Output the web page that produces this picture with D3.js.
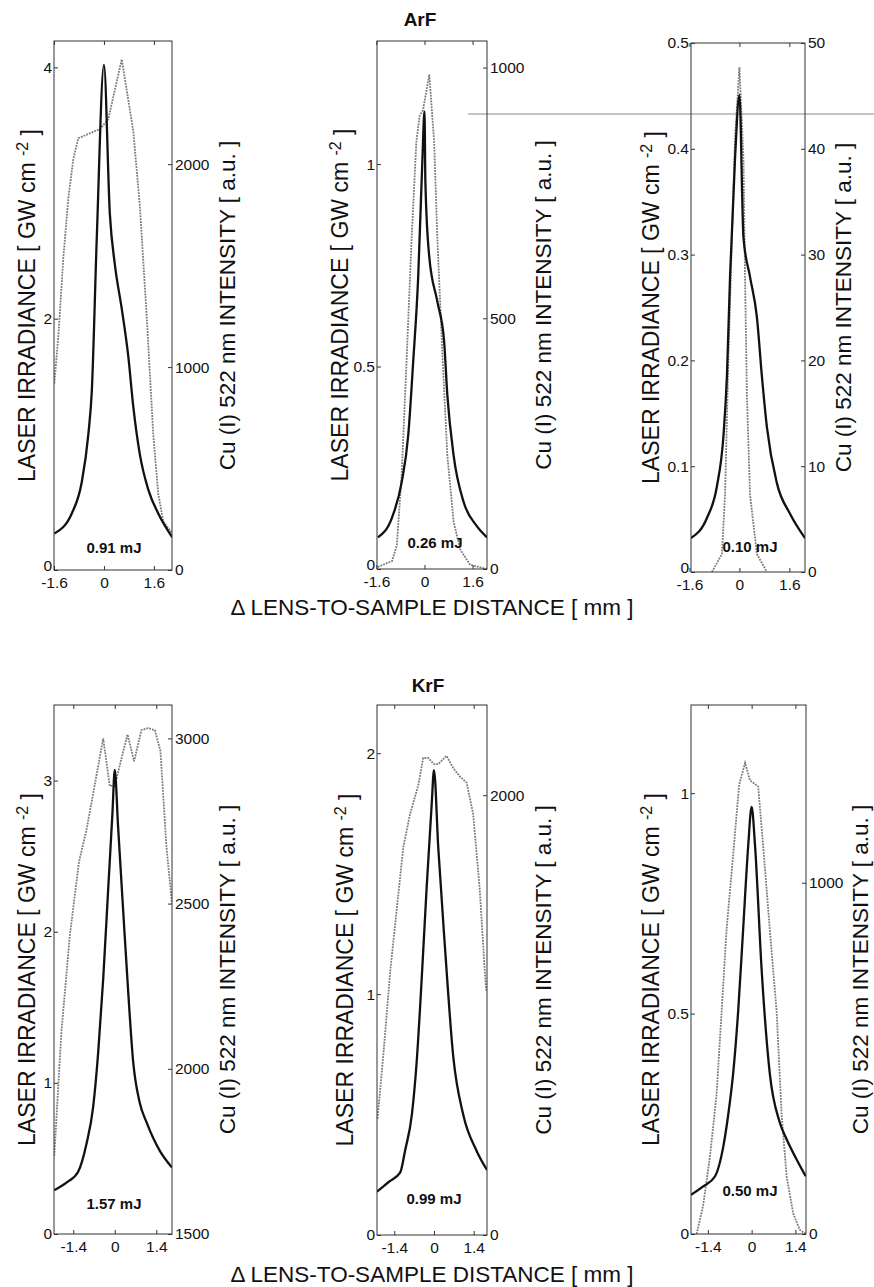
<!DOCTYPE html>
<html>
<head>
<meta charset="utf-8">
<script src="https://cdn.jsdelivr.net/npm/d3@7"></script>
<style>
  body { margin: 0; background: #fff; }
  svg { display: block; }
  text { font-family: Arial, "Liberation Sans", Helvetica, sans-serif; fill: #111; }
</style>
</head>
<body>
<svg id="chart" width="874" height="1287"></svg>
<script>
// ---- data ----
// ArF 0.91 mJ
const arf091Dist = [-1.59, -1.03, -0.71, -0.5, -0.39, -0.23, 0, 0.19, 0.35, 0.57, 0.78, 0.94, 1.15, 1.42, 1.74, 2.19];
const arf091Irr = [0.29, 0.45, 0.7, 1.08, 1.42, 2.64, 4.02, 2.83, 2.43, 2.08, 1.7, 1.3, 0.92, 0.64, 0.45, 0.26];
const arf091CuDist = [-1.59, -1.46, -1.3, -1.14, -0.98, -0.82, -0.13, 0.14, 0.57, 0.94, 1.15, 1.37, 1.58, 1.74, 1.9, 2.19];
const arf091Cu = [920, 1153, 1541, 1833, 2027, 2128, 2173, 2222, 2517, 2163, 1794, 1250, 667, 375, 239, 181];

// ArF 0.26 mJ
const arf026Dist = [-1.55, -1.08, -0.76, -0.54, -0.38, -0.21, -0.07, 0, 0.03, 0.16, 0.43, 0.65, 0.76, 0.97, 1.3, 1.73, 2.08];
const arf026Irr = [0.078, 0.127, 0.214, 0.331, 0.507, 0.72, 1.01, 1.13, 0.955, 0.77, 0.66, 0.565, 0.43, 0.28, 0.166, 0.107, 0.078];
const arf026CuDist = [-1.55, -1.08, -0.92, -0.76, -0.59, -0.43, -0.27, -0.16, -0.05, 0.16, 0.32, 0.43, 0.6, 0.76, 0.97, 1.19, 1.52, 2.08];
const arf026Cu = [4, 16, 47, 188, 423, 657, 853, 904, 915, 986, 853, 657, 423, 227, 94, 39, 8, 0];

// ArF 0.10 mJ
const arf010Dist = [-1.55, -1.04, -0.72, -0.51, -0.4, -0.3, -0.14, 0, 0.13, 0.34, 0.56, 0.72, 0.88, 1.2, 1.62, 2.1];
const arf010Irr = [0.032, 0.051, 0.081, 0.129, 0.185, 0.279, 0.391, 0.451, 0.316, 0.279, 0.241, 0.185, 0.137, 0.084, 0.055, 0.032];
const arf010CuDist = [-0.88, -0.56, -0.46, -0.35, -0.24, -0.14, 0, 0.13, 0.18, 0.24, 0.34, 0.56, 0.88];
const arf010Cu = [0, 1.7, 7.3, 20.4, 31.6, 41, 47.7, 39, 27.9, 16.7, 7.3, 1.7, 0];

// KrF 1.57 mJ
const krf157Dist = [-2.04, -1.63, -1.24, -0.95, -0.73, -0.56, -0.39, -0.22, -0.08, 0, 0.11, 0.28, 0.45, 0.62, 0.84, 1.07, 1.52, 1.93];
const krf157Irr = [0.29, 0.34, 0.41, 0.6, 0.84, 1.2, 1.69, 2.29, 2.78, 3.07, 2.7, 2.15, 1.61, 1.14, 0.87, 0.74, 0.55, 0.44];
const krf157CuDist = [-2.04, -1.8, -1.52, -1.21, -0.95, -0.67, -0.39, -0.17, 0, 0.22, 0.43, 0.65, 0.9, 1.12, 1.35, 1.54, 1.74, 1.93];
const krf157Cu = [1737, 2112, 2400, 2625, 2725, 2862, 3000, 2856, 2856, 2937, 3012, 2931, 3025, 3031, 3025, 2962, 2675, 2500];

// KrF 0.99 mJ
const krf099Dist = [-2.01, -1.6, -1.19, -1.02, -0.78, -0.61, -0.43, -0.26, -0.08, 0, 0.15, 0.39, 0.68, 1.03, 1.5, 1.87];
const krf099Irr = [0.18, 0.22, 0.26, 0.35, 0.5, 0.72, 1.07, 1.44, 1.79, 1.93, 1.61, 1.19, 0.74, 0.5, 0.35, 0.27];
const krf099CuDist = [-1.99, -1.78, -1.54, -1.31, -1.08, -0.84, -0.55, -0.38, -0.2, 0, 0.15, 0.44, 0.68, 0.91, 1.15, 1.38, 1.61, 1.79, 1.84];
const krf099Cu = [529, 829, 1204, 1485, 1766, 1916, 2047, 2169, 2169, 2141, 2141, 2179, 2123, 2085, 2057, 1916, 1579, 1204, 1112];

// KrF 0.50 mJ
const krf050Dist = [-1.94, -1.55, -1.17, -0.91, -0.75, -0.59, -0.43, -0.27, -0.11, 0, 0.11, 0.32, 0.58, 0.9, 1.12, 1.44, 1.73];
const krf050Irr = [0.089, 0.108, 0.131, 0.197, 0.27, 0.365, 0.506, 0.693, 0.88, 0.969, 0.88, 0.6, 0.365, 0.253, 0.215, 0.169, 0.131];
const krf050CuDist = [-1.76, -1.55, -1.33, -1.12, -0.96, -0.8, -0.59, -0.4, -0.21, -0.05, 0.21, 0.37, 0.58, 0.8, 0.96, 1.12, 1.33, 1.54, 1.73];
const krf050Cu = [0, 82, 223, 399, 634, 869, 1080, 1279, 1341, 1291, 1274, 1103, 869, 634, 340, 164, 59, 12, 0];

// tick labels
const arfDistTicks = [-1.6, 0, 1.6];
const krfDistTicks = [-1.4, 0, 1.4];
const energyLabels = ["0.91 mJ", "0.26 mJ", "0.10 mJ", "1.57 mJ", "0.99 mJ", "0.50 mJ"];
const groupTitles = ["ArF", "KrF"];

// ---- layout ----
const panels = [
  { dist: arf091Dist, irr: arf091Irr, cuDist: arf091CuDist, cu: arf091Cu, energy: energyLabels[0],
    box: [54, 172, 41, 570], xDom: [-1.6, 2.18], lDom: [0, 4.21], rDom: [0, 2607],
    xTicks: arfDistTicks, lTicks: [0, 2, 4], rTicks: [0, 1000, 2000],
    lLab: 27, rLab: 227, eX: 114, eY: 548 },
  { dist: arf026Dist, irr: arf026Irr, cuDist: arf026CuDist, cu: arf026Cu, energy: energyLabels[1],
    box: [377, 487, 41, 569], xDom: [-1.58, 2.08], lDom: [0, 1.304], rDom: [0, 1053],
    xTicks: arfDistTicks, lTicks: [0, 0.5, 1], rTicks: [0, 500, 1000],
    lLab: 340, rLab: 543, eX: 435, eY: 543 },
  { dist: arf010Dist, irr: arf010Irr, cuDist: arf010CuDist, cu: arf010Cu, energy: energyLabels[2],
    box: [691, 805, 43, 572], xDom: [-1.55, 2.1], lDom: [0, 0.5], rDom: [0, 50],
    xTicks: arfDistTicks, lTicks: [0, 0.1, 0.2, 0.3, 0.4, 0.5], rTicks: [0, 10, 20, 30, 40, 50],
    lLab: 651, rLab: 843, eX: 750, eY: 547 },
  { dist: krf157Dist, irr: krf157Irr, cuDist: krf157CuDist, cu: krf157Cu, energy: energyLabels[3],
    box: [54, 172, 705, 1234], xDom: [-2.05, 1.93], lDom: [0, 3.5], rDom: [1500, 3101],
    xTicks: krfDistTicks, lTicks: [0, 1, 2, 3], rTicks: [1500, 2000, 2500, 3000],
    lLab: 27, rLab: 227, eX: 114, eY: 1204 },
  { dist: krf099Dist, irr: krf099Irr, cuDist: krf099CuDist, cu: krf099Cu, energy: energyLabels[4],
    box: [377, 487, 705, 1235], xDom: [-2.01, 1.87], lDom: [0, 2.2], rDom: [0, 2410],
    xTicks: krfDistTicks, lTicks: [0, 1, 2], rTicks: [0, 2000],
    lLab: 345, rLab: 543, eX: 434, eY: 1199 },
  { dist: krf050Dist, irr: krf050Irr, cuDist: krf050CuDist, cu: krf050Cu, energy: energyLabels[5],
    box: [691, 806, 705, 1234], xDom: [-1.94, 1.74], lDom: [0, 1.2], rDom: [0, 1506],
    xTicks: krfDistTicks, lTicks: [0, 0.5, 1], rTicks: [0, 1000],
    lLab: 651, rLab: 860, eX: 750, eY: 1191 }
];

const svg = d3.select("#chart");
const fmt = d => String(d);

// scanner streak across the top row
svg.append("line")
  .attr("x1", 468).attr("x2", 874).attr("y1", 114).attr("y2", 114)
  .attr("stroke", "#c4c4c4").attr("stroke-width", 2);

panels.forEach(function(p, i) {
  const [x0, x1, y0, y1] = p.box;
  const x = d3.scaleLinear().domain(p.xDom).range([x0, x1]);
  const yL = d3.scaleLinear().domain(p.lDom).range([y1, y0]);
  const yR = d3.scaleLinear().domain(p.rDom).range([y1, y0]);

  const g = svg.append("g").attr("class", "panel");

  g.append("clipPath").attr("id", "clip" + i)
    .append("rect").attr("x", x0).attr("y", y0).attr("width", x1 - x0).attr("height", y1 - y0);

  // Cu (I) emission, dotted grey
  g.append("path")
    .datum(d3.zip(p.cuDist, p.cu))
    .attr("clip-path", "url(#clip" + i + ")")
    .attr("fill", "none")
    .attr("stroke", "#7a7a7a")
    .attr("stroke-width", 1.8)
    .attr("stroke-dasharray", "1.8,1.1")
    .attr("d", d3.line().x(d => x(d[0])).y(d => yR(d[1])));

  // laser irradiance, solid black
  g.append("path")
    .datum(d3.zip(p.dist, p.irr))
    .attr("clip-path", "url(#clip" + i + ")")
    .attr("fill", "none")
    .attr("stroke", "#111")
    .attr("stroke-width", 2.3)
    .attr("stroke-linejoin", "round")
    .attr("d", d3.line().curve(d3.curveMonotoneX).x(d => x(d[0])).y(d => yL(d[1])));

  // frame
  g.append("rect")
    .attr("x", x0).attr("y", y0).attr("width", x1 - x0).attr("height", y1 - y0)
    .attr("fill", "none").attr("stroke", "#333").attr("stroke-width", 1);

  const style = sel => {
    sel.select(".domain").remove();
    sel.selectAll("line").attr("stroke", "#333");
    sel.selectAll("text").style("font-size", "15.5px").attr("fill", "#111");
  };

  const left = g.append("g").attr("transform", `translate(${x0},0)`)
    .call(d3.axisLeft(yL).tickValues(p.lTicks).tickFormat(fmt).tickSize(-4).tickPadding(2))
    .call(style);
  // the corner "0" sits just above the first distance label when they would collide
  if (x(p.xTicks[0]) - x0 < 10) {
    left.selectAll(".tick text").filter(d => d === p.lDom[0]).attr("dy", "0em");
  }

  g.append("g").attr("transform", `translate(${x1},0)`)
    .call(d3.axisRight(yR).tickValues(p.rTicks).tickFormat(fmt).tickSize(-4).tickPadding(3))
    .call(style);

  g.append("g").attr("transform", `translate(0,${y1})`)
    .call(d3.axisBottom(x).tickValues(p.xTicks).tickFormat(fmt).tickSize(-4).tickPadding(7))
    .call(style);

  g.append("g").attr("transform", `translate(0,${y0})`)
    .call(d3.axisTop(x).tickValues(p.xTicks).tickFormat("").tickSize(-4))
    .call(style);

  // axis titles
  const cy = (y0 + y1) / 2;
  const lt = g.append("text")
    .attr("transform", `translate(${p.lLab},${cy}) rotate(-90)`)
    .attr("text-anchor", "middle").attr("dy", "0.35em")
    .style("font-size", "23px");
  lt.append("tspan").text("LASER IRRADIANCE  [ GW cm ");
  lt.append("tspan").attr("dy", "-0.45em").style("font-size", "16px").text("-2");
  lt.append("tspan").attr("dy", "0.45em").text(" ]");

  g.append("text")
    .attr("transform", `translate(${p.rLab},${cy}) rotate(-90)`)
    .attr("text-anchor", "middle").attr("dy", "0.35em")
    .style("font-size", "22.5px")
    .text("Cu (I) 522 nm INTENSITY [ a.u. ]");

  g.append("text")
    .attr("x", p.eX).attr("y", p.eY).attr("dy", "0.35em")
    .attr("text-anchor", "middle")
    .style("font-size", "15px").style("font-weight", "bold")
    .text(p.energy);
});

// group titles and shared x-axis labels
[[420, 19, 607], [428, 685, 1274]].forEach(function(pos, j) {
  svg.append("text")
    .attr("x", pos[0]).attr("y", pos[1]).attr("dy", "0.35em")
    .attr("text-anchor", "middle")
    .style("font-size", "19px").style("font-weight", "bold")
    .text(groupTitles[j]);
  svg.append("text")
    .attr("x", 432).attr("y", pos[2]).attr("dy", "0.35em")
    .attr("text-anchor", "middle")
    .style("font-size", "22.5px")
    .text("\u0394 LENS-TO-SAMPLE DISTANCE [ mm ]");
});
</script>
</body>
</html>
